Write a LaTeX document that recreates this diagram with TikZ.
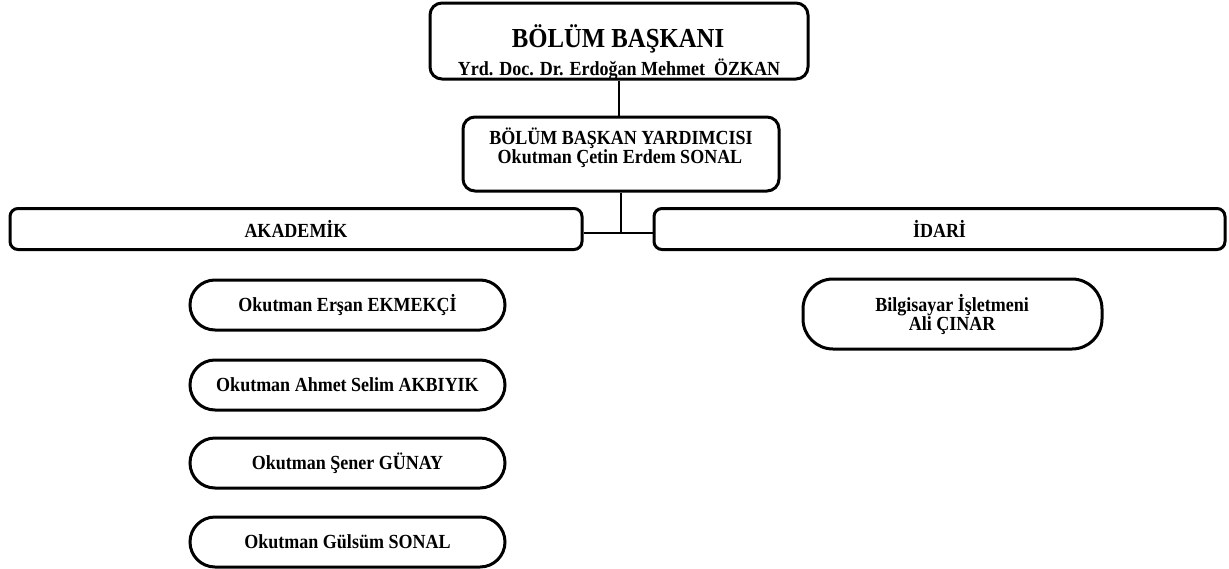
\documentclass[tikz,border=0pt]{standalone}
\usepackage{fontspec}
\setmainfont{Liberation Serif}
% slightly narrowed face, set at a larger size for taller letters
\newfontfamily\tallserif{Liberation Serif}[FakeStretch=0.9]
\begin{document}
\begin{tikzpicture}[x=1pt,y=-1pt,
  box/.style={draw=black,line width=3pt,rounded corners=#1,inner sep=0pt},
  box/.default=12pt,
  txt/.style={font=\tallserif\fontsize{20}{22}\selectfont\bfseries,inner sep=0pt},
  wire/.style={draw=black,line width=2pt}]
\useasboundingbox (0,0) rectangle (1229,568);

% Department head
\node[box=12pt,minimum width=378pt,minimum height=76pt] (head) at (619,41) {};
\node[anchor=base,inner sep=0pt,font=\tallserif\fontsize{27.5}{30}\selectfont\bfseries] (headtitle) at (618,47) {BÖLÜM BAŞKANI};
\node[txt,anchor=base] (headname) at (619,75) {Yrd. Doc. Dr. Erdoğan Mehmet \ ÖZKAN};

% Deputy head
\node[box=12pt,minimum width=316pt,minimum height=74pt] (deputy) at (621,154) {};
\node[txt,anchor=base] (deputytitle) at (621,144) {BÖLÜM BAŞKAN YARDIMCISI};
\node[txt,anchor=base] (deputyname) at (620,163) {Okutman Çetin Erdem SONAL};

% Branches
\node[box=8pt,minimum width=572pt,minimum height=41pt,txt] (acad) at (296,229) {AKADEMİK};
\node[box=8pt,minimum width=571pt,minimum height=41pt,txt] (admin) at (939.5,229) {İDARİ};

% Connectors
\coordinate (junction) at (621,233);
\draw[wire] (head.south) -- (head.south |- deputy.north);
\draw[wire] (deputy.south) -- (junction);
\draw[wire] (acad.east |- junction) -- (admin.west |- junction);

% Academic staff
\tikzset{staff/.style={box=25pt,minimum width=315pt,minimum height=50pt,txt}}
\node[staff] (s1) at (347.5,305) {Okutman Erşan EKMEKÇİ};
\node[staff] (s2) at (347.5,385) {Okutman Ahmet Selim AKBIYIK};
\node[staff] (s3) at (347.5,463) {Okutman Şener GÜNAY};
\node[staff] (s4) at (347.5,542) {Okutman Gülsüm SONAL};

% Administrative staff
\node[box=30pt,minimum width=299pt,minimum height=70pt] (clerk) at (952.5,314) {};
\node[txt,anchor=base] (clerkjob) at (952,311) {Bilgisayar İşletmeni};
\node[txt,anchor=base] (clerkname) at (952,330) {Ali ÇINAR};
\end{tikzpicture}
\end{document}
